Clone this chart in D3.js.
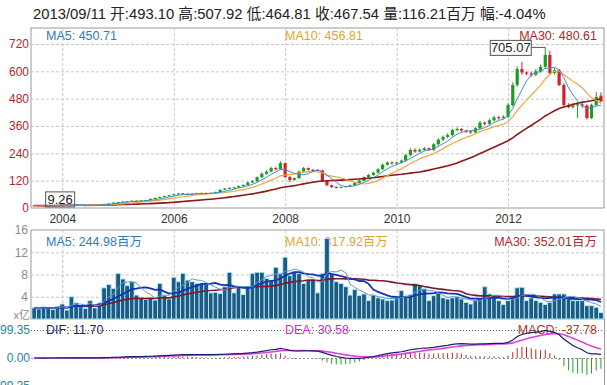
<!DOCTYPE html>
<html><head><meta charset="utf-8">
<script src="https://cdn.jsdelivr.net/npm/d3@7"></script>
<style>
body{margin:0;background:#fff}
svg{display:block}
text{font-family:"Liberation Sans",Arial,"Noto Sans CJK SC",sans-serif}
</style>
</head><body>
<svg id="c" width="607" height="385"></svg>
<script>
// ---- data (monthly, 2003-07 .. 2013-09) ----
const firstMonth = new Date(2003, 6, 1);
const lastMonth = new Date(2013, 8, 1);
const opens = [11.5,11,10.5,10,11,12,13,14,15,14,13,12,12,12.5,13,15,18,20,24,26,28,30,32,30,33,35,40,44,48,52,56,60,64,62,60,62,65,66,64,66,70,80,85,88,90,96,101,112,118,135,150,160,175,170,197,136,123,131,160,175,168,167,165,118,100,92,90,92,96,100,110,120,135,145,155,170,190,200,196,200,208,232,255,248,255,262,255,280,300,312,320,342,347,340,336,332,350,375,370,385,398,395,400,452,540,610,595,590,585,600,620,672,593,605,540,452,443,450,455,450,395,452,493.1];
const highs = [12,11.5,11,11.5,12.5,13.5,14.5,15.5,15.5,14.5,13.5,12.5,13,13.5,15.5,19,21,25,27,29,31,33,33,34,36,41.5,46,50,54,58,62,66,66,64,64,67,68,68,68,72,82,88,91,93,99,104,116,122,139,156,166,181,180,205,200,140,134,165,180,178,172,170,168,122,102,95,94,98,103,113,124,139,149,160,175,195,205,205,204,213,238,262,262,262,268,266,285,306,318,327,348,354,350,344,340,356,382,380,392,405,404,408,460,552,622,641,600,598,610,630,705.07,690,615,610,548,460,458,465,462,456,458,509,507.92];
const lows = [10.3,10,9.26,9.6,10.5,11.5,12.5,13.5,13.5,12.5,11.5,11.5,11.5,12,12.5,14.5,17.5,19.5,23,25,27,29,29,29,32,34,39,43,47,51,55,59,60,58,59,61,63,62,62,65,68,78,83,86,88,94,99,109,115,132,146,156,165,168,132,114,120,128,157,164,162,160,114,96,88,86,88,90,94,98,107,117,131,141,151,166,186,190,190,196,204,228,242,244,250,250,250,274,294,306,314,336,335,330,326,328,345,362,365,380,388,390,395,445,532,585,582,575,578,594,610,585,585,535,445,438,436,395,440,388,390,448,464.81];
const closes = [11,10.5,10,11,12,13,14,15,14,13,12,12,12.5,13,15,18,20,24,26,28,30,32,30,33,35,40,44,48,52,56,60,64,62,60,62,65,66,64,66,70,80,85,88,90,96,101,112,118,135,150,160,175,170,197,136,123,131,160,175,168,167,165,118,100,92,90,92,96,100,110,120,135,145,155,170,190,200,196,200,208,232,255,248,255,262,255,280,300,312,320,342,347,340,336,332,350,375,370,385,398,395,400,452,540,610,595,590,585,600,620,672,593,605,540,452,443,450,455,450,395,452,487,467.54];
// volume in 亿
const volumes = [2.0,1.8,2.2,2.0,1.7,2.3,2.7,1.6,4.0,2.9,2.2,1.9,3.3,2.0,2.9,5.6,6.2,5.5,8.2,7.2,6.0,6.7,4.3,3.7,3.5,3.8,3.4,6.4,4.2,3.6,7.5,6.7,8.2,7.0,6.7,6.4,6.4,6.3,4.7,4.8,4.6,5.8,8.4,4.7,5.8,4.4,5.9,8.2,8.4,8.4,7.3,6.9,9.3,8.2,11.1,7.8,8.5,8.2,6.4,7.0,7.0,4.7,8.2,14.5,8.2,6.7,6.4,5.8,4.3,5.3,4.2,4.5,3.3,4.3,3.8,3.6,3.3,3.4,3.9,5.1,4.2,4.4,6.4,6.0,5.5,3.3,4.2,4.6,3.8,3.6,3.8,4.0,3.6,3.0,2.7,3.3,3.6,5.8,4.5,4.2,3.3,2.6,3.3,4.0,5.6,5.7,3.3,3.8,3.3,3.0,2.6,3.0,4.5,4.5,4.5,3.6,3.3,3.3,3.3,2.4,2.4,2.1,1.16];
const priceTicks = [0,120,240,360,480,600,720];
const volTicks = [4,8,12,16];
const macdTicks = [99.35,0,-99.35];
const yearTicks = [2004,2006,2008,2010,2012];
const headerText = "2013/09/11 开:493.10 高:507.92 低:464.81 收:467.54 量:116.21百万 幅:-4.04%";
const priceLegend = [["MA5: 450.71","#2e7db6"],["MA10: 456.81","#e3a42e"],["MA30: 480.61","#b3262a"]];
const volLegend = [["MA5: 244.98百万","#2e7db6"],["MA10: 317.92百万","#e3a42e"],["MA30: 352.01百万","#b3262a"]];
const macdLegend = [["DIF: 11.70","#1c1c6e"],["DEA: 30.58","#d62ad6"],["MACD: -37.78","#a8382a"]];

// ---- derived indicators ----
const months = d3.timeMonth.range(firstMonth, d3.timeMonth.offset(lastMonth,1));
function ma(arr,n){return arr.map((_,i)=>d3.mean(arr.slice(Math.max(0,i-n+1),i+1)));}
function ema(arr,n){let e;return arr.map((v,i)=>{e=i===0?v:(2*v+(n-1)*e)/(n+1);return e;});}
const e12=ema(closes,12), e26=ema(closes,26);
const dif=e12.map((v,i)=>v-e26[i]);
const dea=ema(dif,9);
const macd=dif.map((v,i)=>2*(v-dea[i]));

// ---- scales ----
const svg=d3.select('#c');
const L=31,R=604;
const x=d3.scaleTime().domain([new Date(2003,5,10),new Date(2013,8,21)]).range([L,R]);
const yP=d3.scaleLinear().domain([0,720]).range([208,44]);
const yV=d3.scaleLinear().domain([0,16]).range([319,230]);
const yM=d3.scaleLinear().domain([-99.35,99.35]).range([386,330]);
const xs=months.map(m=>x(m));

// header
svg.append('text').attr('x',33).attr('y',19).attr('font-size',14.8).attr('fill','#222').text(headerText);

// ===== price panel =====
const gP=svg.append('g');
gP.append('rect').attr('x',L).attr('y',28).attr('width',R-L).attr('height',180).attr('fill','#fff').attr('stroke','#9a9a9a');
gP.selectAll('.hg').data(priceTicks.filter(d=>d>0)).join('line').attr('x1',L).attr('x2',R).attr('y1',d=>yP(d)+.5).attr('y2',d=>yP(d)+.5).attr('stroke','#c8c8c8').attr('stroke-dasharray','3,2');
gP.selectAll('.vg').data(yearTicks).join('line').attr('x1',d=>x(new Date(d,0,1))+.5).attr('x2',d=>x(new Date(d,0,1))+.5).attr('y1',28).attr('y2',208).attr('stroke','#c8c8c8').attr('stroke-dasharray','3,2');
const ayP=d3.axisLeft(yP).tickValues(priceTicks).tickSize(0).tickPadding(2);
gP.append('g').attr('transform',`translate(${L},0)`).call(ayP).call(g=>g.select('.domain').remove())
  .selectAll('text').attr('font-size',12).attr('fill','#b8262a').style('font-family','"Liberation Sans",Arial,sans-serif');
const axX=d3.axisBottom(x).tickValues(yearTicks.map(y=>new Date(y,0,1))).tickSize(0).tickPadding(5).tickFormat(d3.timeFormat('%Y'));
gP.append('g').attr('transform','translate(0,209)').call(axX).call(g=>g.select('.domain').remove())
  .selectAll('text').attr('font-size',12).attr('fill','#333').style('font-family','"Liberation Sans",Arial,sans-serif');
// legend
const pxs=[46,285,null];
priceLegend.forEach((d,i)=>{const t=gP.append('text').attr('y',40).attr('font-size',12.5).attr('fill',d[1]).text(d[0]);
  if(i<2)t.attr('x',pxs[i]);else t.attr('x',597).attr('text-anchor','end');});
// candles
const cw=3.2;
const cg=gP.append('g');
months.forEach((m,i)=>{
  const up=closes[i]>=opens[i];const col=up?'#1f9a24':'#d0222a';
  cg.append('line').attr('x1',xs[i]).attr('x2',xs[i]).attr('y1',yP(highs[i])).attr('y2',yP(lows[i])).attr('stroke',col).attr('stroke-width',1);
  const yt=yP(Math.max(opens[i],closes[i])),yb=yP(Math.min(opens[i],closes[i]));
  cg.append('rect').attr('x',xs[i]-cw/2).attr('y',yt).attr('width',cw).attr('height',Math.max(1,yb-yt)).attr('fill',col);
});
const lineP=arr=>d3.line().x((d,i)=>xs[i]).y(d=>yP(d))(arr);
gP.append('path').attr('d',lineP(ma(closes,30))).attr('fill','none').attr('stroke','#8e1518').attr('stroke-width',1.6);
gP.append('path').attr('d',lineP(ma(closes,10))).attr('fill','none').attr('stroke','#eea640').attr('stroke-width',1.2);
gP.append('path').attr('d',lineP(ma(closes,5))).attr('fill','none').attr('stroke','#3f8fc6').attr('stroke-width',1);
// max / min labels
const iMax=d3.maxIndex(highs), iMin=d3.minIndex(lows);
const hx=xs[iMax], hy=yP(highs[iMax]);
gP.append('line').attr('x1',hx-14).attr('x2',hx).attr('y1',hy).attr('y2',hy).attr('stroke','#555');
gP.append('rect').attr('x',hx-55).attr('y',hy-7).attr('width',41).attr('height',15).attr('fill','#fff').attr('stroke','#555');
gP.append('text').attr('x',hx-34.5).attr('y',hy+5).attr('text-anchor','middle').attr('font-size',13).attr('fill','#222').text(highs[iMax].toFixed(2));
const lx=xs[iMin], ly=yP(lows[iMin]);
gP.append('rect').attr('x',lx+2).attr('y',ly-14).attr('width',29).attr('height',15).attr('fill','none').attr('stroke','#555');
gP.append('text').attr('x',lx+16.5).attr('y',ly-2).attr('text-anchor','middle').attr('font-size',13).attr('fill','#222').text(lows[iMin].toFixed(2));

// ===== volume panel =====
const gV=svg.append('g');
gV.append('rect').attr('x',L).attr('y',230).attr('width',R-L).attr('height',89).attr('fill','#fff').attr('stroke','#9a9a9a');
gV.selectAll('.hg').data(volTicks.filter(d=>d<16)).join('line').attr('x1',L).attr('x2',R).attr('y1',d=>yV(d)+.5).attr('y2',d=>yV(d)+.5).attr('stroke','#c8c8c8').attr('stroke-dasharray','3,2');
gV.selectAll('.vg').data(yearTicks).join('line').attr('x1',d=>x(new Date(d,0,1))+.5).attr('x2',d=>x(new Date(d,0,1))+.5).attr('y1',230).attr('y2',319).attr('stroke','#c8c8c8').attr('stroke-dasharray','3,2');
const ayV=d3.axisLeft(yV).tickValues(volTicks).tickSize(0).tickPadding(3);
gV.append('g').attr('transform',`translate(${L},0)`).call(ayV).call(g=>g.select('.domain').remove())
  .selectAll('text').attr('font-size',12).attr('fill','#8a8a8a').style('font-family','"Liberation Sans",Arial,sans-serif');
gV.append('text').attr('x',30).attr('y',319).attr('text-anchor','end').attr('font-size',11).attr('fill','#8a8a8a').text('x亿');
volLegend.forEach((d,i)=>{const t=gV.append('text').attr('y',246).attr('font-size',12.5).attr('fill',d[1]).text(d[0]);
  if(i<2)t.attr('x',pxs[i]);else t.attr('x',597).attr('text-anchor','end');});
const bw=4.65;
gV.selectAll('.vb').data(volumes).join('rect').attr('x',(d,i)=>xs[i]-bw/2).attr('y',d=>yV(d)).attr('width',bw).attr('height',d=>yV(0)-yV(d))
  .attr('fill','#1d5b84').attr('stroke','#b4ecf4').attr('stroke-width',0.9);
const lineV=arr=>d3.line().x((d,i)=>xs[i]).y(d=>yV(d))(arr);
gV.append('path').attr('d',lineV(ma(volumes,30))).attr('fill','none').attr('stroke','#7a1830').attr('stroke-width',1.6);
gV.append('path').attr('d',lineV(ma(volumes,10))).attr('fill','none').attr('stroke','#1530c0').attr('stroke-width',1.8);
gV.append('path').attr('d',lineV(ma(volumes,5))).attr('fill','none').attr('stroke','#5a9ccc').attr('stroke-width',1);

// ===== MACD panel =====
const gM=svg.append('g');
gM.append('line').attr('x1',R+.5).attr('x2',R+.5).attr('y1',319).attr('y2',385).attr('stroke','#9a9a9a');
gM.append('line').attr('x1',L).attr('x2',R).attr('y1',yM(99.35)+.5).attr('y2',yM(99.35)+.5).attr('stroke','#666').attr('stroke-dasharray','1,2');
gM.append('line').attr('x1',L).attr('x2',R).attr('y1',yM(0)+.5).attr('y2',yM(0)+.5).attr('stroke','#999').attr('stroke-dasharray','2,2');
const ayM=d3.axisLeft(yM).tickValues(macdTicks).tickSize(0).tickPadding(1).tickFormat(d3.format('.2f'));
gM.append('g').attr('transform',`translate(${L},0)`).call(ayM).call(g=>g.select('.domain').remove())
  .selectAll('text').attr('font-size',12).attr('fill','#23889a').style('font-family','"Liberation Sans",Arial,sans-serif');
macdLegend.forEach((d,i)=>{const t=gM.append('text').attr('y',334).attr('font-size',12.5).attr('fill',d[1]).text(d[0]);
  if(i<2)t.attr('x',pxs[i]);else t.attr('x',597).attr('text-anchor','end');});
gM.selectAll('.mb').data(macd).join('line').attr('x1',(d,i)=>xs[i]).attr('x2',(d,i)=>xs[i]).attr('y1',yM(0)).attr('y2',d=>yM(d))
  .attr('stroke',d=>d>=0?'#b8282a':'#2a9a2a').attr('stroke-width',1);
const lineM=arr=>d3.line().x((d,i)=>xs[i]).y(d=>yM(d))(arr);
gM.append('path').attr('d',lineM(dea)).attr('fill','none').attr('stroke','#e040e0').attr('stroke-width',1.6);
gM.append('path').attr('d',lineM(dif)).attr('fill','none').attr('stroke','#1c1c6e').attr('stroke-width',1.2);
</script>
</body></html>
